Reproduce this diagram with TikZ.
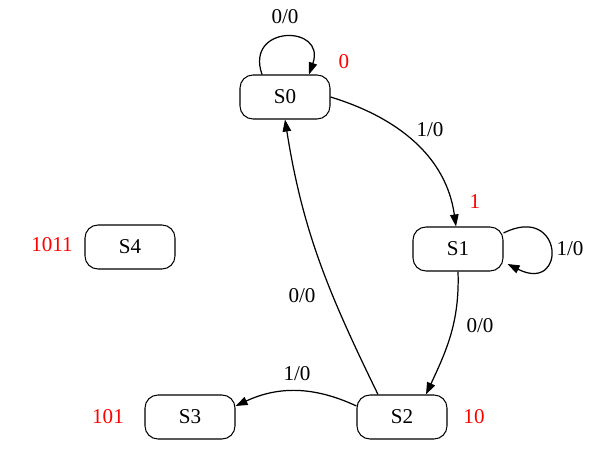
\documentclass[tikz,border=0pt]{standalone}
\usepackage{fontspec}
\setmainfont{Liberation Serif}
\usetikzlibrary{arrows.meta}
\begin{document}
\begin{tikzpicture}[font=\fontsize{12}{14}\selectfont,
    state/.style={draw,rounded corners=0.26cm,minimum width=1.8cm,minimum height=0.88cm,line width=0.6pt},
    >={Triangle[length=2.4mm,width=1.7mm]}, every path/.append style={line width=0.7pt}]
            \useasboundingbox (0,0) rectangle (12.04,9.06);
            \node [state] (S0) at (5.7,7.12) {S0};
            \node [state] (S1) at (9.16,4.08) {S1};
            \node [state] (S4) at (2.6,4.12) {S4};
            \node [state] (S3) at (3.8,0.72) {S3};
            \node [state] (S2) at (8.04,0.72) {S2};
            \draw [->] ([xshift=-0.46cm]S0.north) .. controls +(-0.35,1) and +(0.35,1) .. ([xshift=0.48cm]S0.north);
            \draw [->] ([yshift=0.32cm]S1.east) .. controls +(1.2,0.6) and +(1.2,-0.6) .. ([yshift=-0.3cm,xshift=0.08cm]S1.east);
            \draw [->] (S0.east) to [out=-17,in=98] ([xshift=-0.04cm]S1.north);
            \draw [->] (S1.south) to [out=-88,in=65] ([xshift=0.48cm]S2.north);
            \draw [->] ([xshift=-0.48cm]S2.north) to [out=116,in=-81] (S0.south);
            \draw [->] ([yshift=0.22cm]S2.west) to [bend right=25] ([yshift=0.22cm]S3.east);
            \path (5.7,8.72) node (l00a) {0/0};
            \path (8.6,6.46) node (l10a) {1/0};
            \path (11.4,4.08) node (l10b) {1/0};
            \path (9.6,2.54) node (l00b) {0/0};
            \path (6.04,3.14) node (l00c) {0/0};
            \path (5.94,1.58) node (l10c) {1/0};
            \path [red] (6.88,7.82) node (c0) {0};
            \path [red] (9.5,5.02) node (c1) {1};
            \path [red] (9.48,0.72) node (c10) {10};
            \path [red] (2.16,0.72) node (c101) {101};
            \path [red] (1.04,4.16) node (c1011) {1011};
        \end{tikzpicture}
\end{document}
